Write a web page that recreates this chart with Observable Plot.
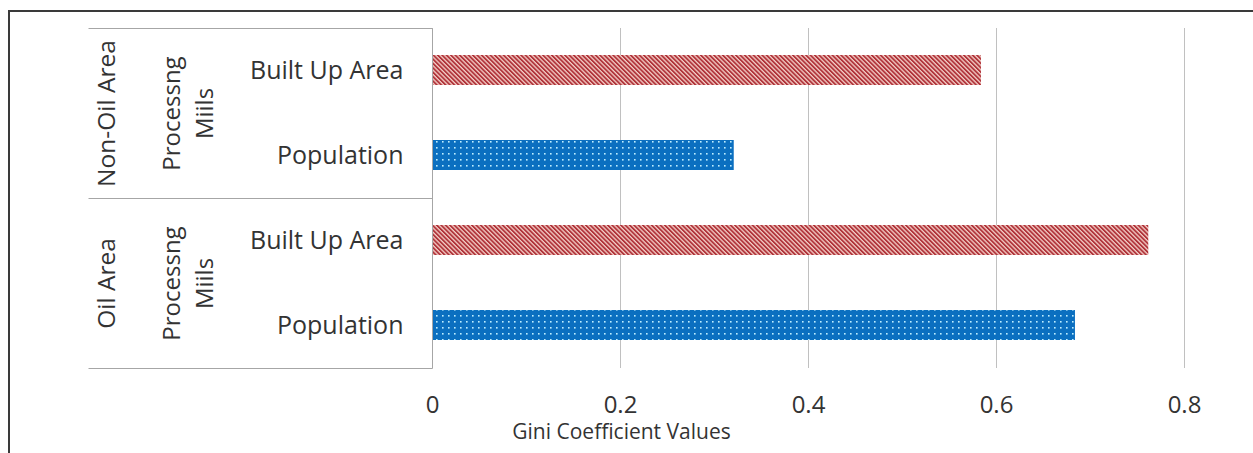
<!DOCTYPE html>
<html><head><meta charset="utf-8">
<script src="https://cdn.jsdelivr.net/npm/d3@7"></script>
<script src="https://cdn.jsdelivr.net/npm/@observablehq/plot@0.6"></script>
<style>
html,body{margin:0;padding:0;background:#fff;}
#wrap{position:relative;width:1253px;height:453px;overflow:hidden;}
#frame{position:absolute;left:8px;top:10px;right:-10px;bottom:-10px;border-top:2px solid #3a3a3a;border-left:2px solid #3a3a3a;pointer-events:none;}
#chart{position:absolute;left:0;top:0;}
</style></head><body>
<div id="wrap"><div id="chart"></div><div id="frame"></div></div>
<script>
// ---- data ----
const groups = ["Non-Oil Area", "Oil Area"];
const subLabel = ["Processng", "Miils"];
const measures = ["Built Up Area", "Population"];
const builtUp = [0.584, 0.762];
const population = [0.321, 0.684];
const xTicks = [0, 0.2, 0.4, 0.6, 0.8];
const xTitle = "Gini Coefficient Values";

const rows = [];
groups.forEach((g, i) => {
  rows.push({group: g, measure: measures[0], key: g + "|" + measures[0], value: builtUp[i]});
  rows.push({group: g, measure: measures[1], key: g + "|" + measures[1], value: population[i]});
});
const keys = rows.map(d => d.key);

const textColor = "#333333";

function defsMark() {
  return () => {
    const d = d3.create("svg:defs");
    const h = d.append("pattern").attr("id", "hatch").attr("patternUnits", "userSpaceOnUse")
      .attr("width", 3.1).attr("height", 6).attr("patternTransform", "rotate(-45)");
    h.append("rect").attr("width", 3.1).attr("height", 6).attr("fill", "#f3cdc6");
    h.append("rect").attr("width", 1.8).attr("height", 6).attr("fill", "#b0333a");
    const p = d.append("pattern").attr("id", "dots").attr("patternUnits", "userSpaceOnUse")
      .attr("width", 6).attr("height", 6).attr("x", 2).attr("y", 1);
    p.append("rect").attr("width", 6).attr("height", 6).attr("fill", "#0b6fc0");
    p.append("rect").attr("x", 2).attr("y", 2).attr("width", 1.6).attr("height", 1.6).attr("fill", "#bdeeff");
    return d.node();
  };
}

function hierarchyMark() {
  return (index, scales, values, dims) => {
    const y = scales.y, bw = y.bandwidth();
    const top = dims.marginTop + 0.5, bottom = dims.height - dims.marginBottom + 0.5;
    const x0 = dims.marginLeft + 0.5;
    const left = x0 - 344;
    const bounds = [top];
    groups.forEach((g, i) => {
      if (i < groups.length - 1) {
        const lastKey = g + "|" + measures[measures.length - 1];
        const nextKey = groups[i + 1] + "|" + measures[0];
        bounds.push(Math.round(((y(lastKey) + bw) + y(nextKey)) / 2) + 0.5);
      }
    });
    bounds.push(bottom);
    const gEl = d3.create("svg:g");
    bounds.forEach(b => {
      gEl.append("line").attr("x1", left).attr("x2", x0).attr("y1", b).attr("y2", b)
        .attr("stroke", "#a6a6a6").attr("stroke-width", 1);
    });
    gEl.append("line").attr("x1", x0).attr("x2", x0).attr("y1", top).attr("y2", bottom)
      .attr("stroke", "#a6a6a6").attr("stroke-width", 1);
    groups.forEach((g, i) => {
      const cy = (bounds[i] + bounds[i + 1]) / 2;
      gEl.append("text").attr("transform", `translate(${x0 - 326},${cy}) rotate(-90)`)
        .attr("text-anchor", "middle").attr("dy", "0.35em").attr("font-size", 24.5)
        .attr("fill", textColor).text(g);
      subLabel.forEach((s, j) => {
        gEl.append("text").attr("transform", `translate(${x0 - 261 + j * 33},${cy}) rotate(-90)`)
          .attr("text-anchor", "middle").attr("dy", "0.35em").attr("font-size", 24)
          .attr("fill", textColor).text(s);
      });
    });
    return gEl.node();
  };
}

const chart = Plot.plot({
  width: 1253,
  height: 453,
  marginLeft: 432,
  marginRight: 69,
  marginTop: 28,
  marginBottom: 85,
  style: {fontFamily: "'Open Sans', sans-serif", background: "transparent", color: textColor},
  x: {domain: [0, 0.8], label: null},
  y: {domain: keys, paddingInner: 0.645, paddingOuter: 0.3225, label: null},
  marks: [
    defsMark(),
    Plot.gridX(xTicks, {stroke: "#c0c0c0", strokeOpacity: 1, strokeWidth: 1}),
    Plot.barX(rows.filter(d => d.measure === measures[0]), {y: "key", x: "value", fill: "url(#hatch)"}),
    Plot.barX(rows.filter(d => d.measure === measures[1]), {y: "key", x: "value", fill: "url(#dots)"}),
    hierarchyMark(),
    Plot.axisY({tickSize: 0, tickPadding: 29, fontSize: 25, fill: textColor, label: null,
      tickFormat: k => k.split("|")[1]}),
    Plot.axisX(xTicks, {tickSize: 0, tickPadding: 27, fontSize: 24, fill: textColor, label: null,
      tickFormat: d => d === 0 ? "0" : d3.format(".1f")(d)}),
    Plot.text([xTitle], {frameAnchor: "bottom-left", dx: 189, dy: 64, fontSize: 21,
      textAnchor: "middle", lineAnchor: "middle", fill: textColor})
  ]
});
document.getElementById("chart").appendChild(chart);
</script>
</body></html>
